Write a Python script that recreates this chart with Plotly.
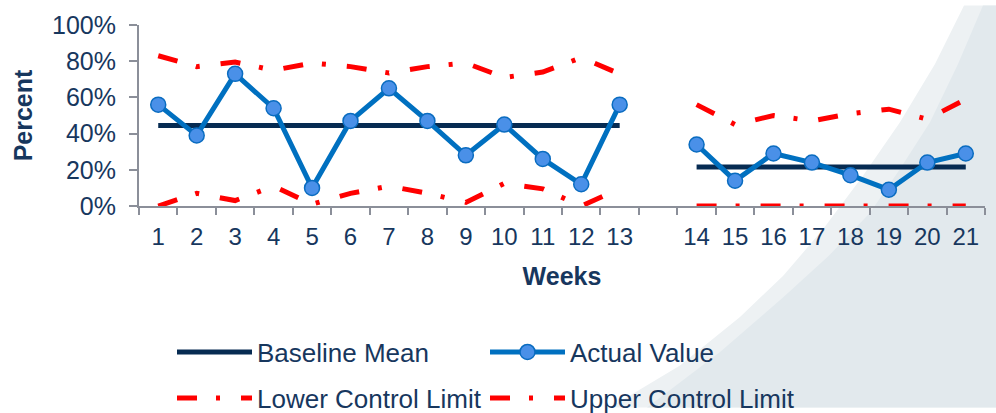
import plotly.graph_objects as go

# Weekly categories; the blank entry separates baseline weeks from follow-up weeks
weeks = ["1", "2", "3", "4", "5", "6", "7", "8", "9", "10", "11", "12", "13",
         " ", "14", "15", "16", "17", "18", "19", "20", "21"]

actual_value = [0.56, 0.39, 0.73, 0.54, 0.10, 0.47, 0.65, 0.47, 0.28, 0.45, 0.26, 0.12, 0.56,
                None, 0.34, 0.14, 0.29, 0.24, 0.17, 0.09, 0.24, 0.29]

baseline_mean = [0.445, 0.445, 0.445, 0.445, 0.445, 0.445, 0.445, 0.445, 0.445, 0.445, 0.445, 0.445, 0.445,
                 None, 0.216, 0.216, 0.216, 0.216, 0.216, 0.216, 0.216, 0.216]

upper_limit = [0.83, 0.77, 0.795, 0.75, 0.79, 0.77, 0.735, 0.77, 0.79, 0.71, 0.74, 0.82, 0.73,
               None, 0.56, 0.45, 0.50, 0.47, 0.51, 0.535, 0.48, 0.59]

lower_limit = [0.0, 0.07, 0.03, 0.11, 0.01, 0.07, 0.11, 0.07, 0.02, 0.125, 0.095, 0.0, 0.095,
               None, 0.0, 0.0, 0.0, 0.0, 0.0, 0.0, 0.0, 0.0]

W, H = 996, 413
ML, MR, MT, MB = 139, 11, 20, 207

TEXT = "#17375e"
AXIS = "#8b8f99"
FONT = "Liberation Sans, Arial, sans-serif"
LIMIT_DASH = "20px,19px,4px,21px"


def px_to_paper(px, py):
    """Convert page pixel coordinates to paper coordinates of the plot area."""
    x = (px - ML) / (W - ML - MR)
    y = (H - MB - py) / (H - MT - MB)
    return x, y


def band_path(points):
    parts = []
    for i, (px, py) in enumerate(points):
        x, y = px_to_paper(px, py)
        parts.append(("M" if i == 0 else "L") + f"{x:.4f},{y:.4f}")
    return " ".join(parts) + " Z"


# Decorative background swoosh at the lower right of the slide
outer_edge = [(964, 0), (935, 60), (900, 120), (863, 175), (823, 230), (783, 278),
              (740, 320), (680, 370), (610, 413)]
inner_edge = [(983, 0), (958, 60), (930, 120), (900, 168), (870, 213), (828, 258),
              (783, 300), (720, 356), (647, 413)]

light_band = outer_edge + [(996, 413), (996, 0)]
dark_band = inner_edge + [(996, 413), (996, 0)]

fig = go.Figure()

fig.add_trace(go.Scatter(
    x=weeks, y=baseline_mean, name="Baseline Mean", mode="lines",
    line=dict(color="#062b52", width=5), legend="legend", connectgaps=False,
))
fig.add_trace(go.Scatter(
    x=weeks, y=actual_value, name="Actual Value", mode="lines+markers",
    line=dict(color="#0070c0", width=5),
    marker=dict(size=15, color="#4a90e8", line=dict(color="#0a6cc0", width=1.5)),
    legend="legend", connectgaps=False,
))
fig.add_trace(go.Scatter(
    x=weeks, y=lower_limit, name="Lower Control Limit", mode="lines",
    line=dict(color="#ff0000", width=5, dash=LIMIT_DASH), legend="legend2", connectgaps=False,
))
fig.add_trace(go.Scatter(
    x=weeks, y=upper_limit, name="Upper Control Limit", mode="lines",
    line=dict(color="#ff0000", width=5, dash=LIMIT_DASH), legend="legend2", connectgaps=False,
))

legend_common = dict(
    orientation="h", xref="container", yref="container",
    xanchor="left", yanchor="middle",
    bgcolor="rgba(0,0,0,0)", font=dict(family=FONT, size=26, color=TEXT),
    itemwidth=75, entrywidth=223, itemclick=False, itemdoubleclick=False,
)

fig.update_layout(
    width=W, height=H,
    margin=dict(l=ML, r=MR, t=MT, b=MB, pad=0),
    paper_bgcolor="white", plot_bgcolor="rgba(0,0,0,0)",
    font=dict(family=FONT, color=TEXT),
    showlegend=True,
    legend=dict(x=172 / W, y=(H - 352) / H, **legend_common),
    legend2=dict(x=172 / W, y=(H - 398) / H, **legend_common),
    shapes=[
        dict(type="path", xref="paper", yref="paper", path=band_path(light_band),
             fillcolor="#edf1f3", line=dict(width=0), layer="below"),
        dict(type="path", xref="paper", yref="paper", path=band_path(dark_band),
             fillcolor="#e2e9ed", line=dict(width=0), layer="below"),
    ],
    xaxis=dict(
        type="category", categoryorder="array", categoryarray=weeks,
        range=[-0.5, len(weeks) - 0.5],
        showline=True, linecolor=AXIS, linewidth=2,
        ticks="outside", tickson="boundaries", ticklen=7, tickcolor=AXIS, tickwidth=2,
        tickfont=dict(family=FONT, size=24, color=TEXT),
        ticklabelstandoff=8,
        showgrid=False, zeroline=False,
        title=dict(text="<b>Weeks</b>", font=dict(family=FONT, size=25, color=TEXT), standoff=19),
    ),
    yaxis=dict(
        range=[0, 1], tickvals=[0, 0.2, 0.4, 0.6, 0.8, 1.0], tickformat=".0%",
        showline=True, linecolor=AXIS, linewidth=2,
        ticks="outside", ticklen=8, tickcolor=AXIS, tickwidth=2,
        tickfont=dict(family=FONT, size=25, color=TEXT),
        ticklabelstandoff=8,
        showgrid=False, zeroline=False,
        title=dict(text="<b>Percent</b>", font=dict(family=FONT, size=25, color=TEXT), standoff=12),
    ),
)

fig.write_html("out.html")
